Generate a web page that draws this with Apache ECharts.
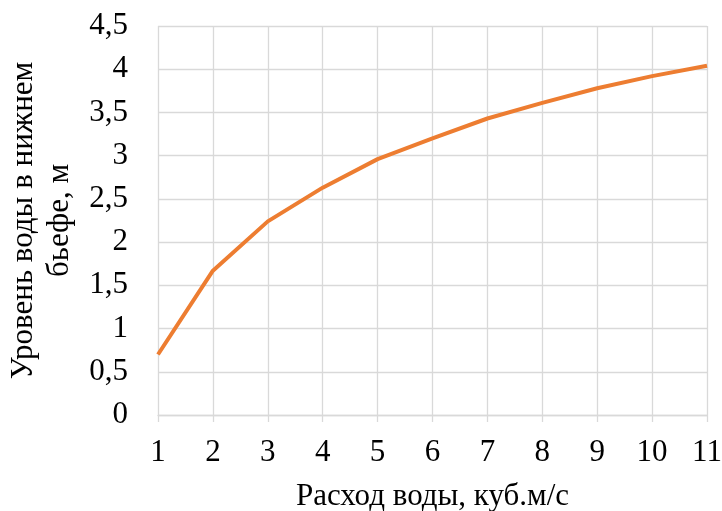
<!DOCTYPE html>
<html>
<head>
<meta charset="utf-8">
<script src="https://cdn.jsdelivr.net/npm/echarts@6/dist/echarts.min.js"></script>
<style>
  html, body { margin: 0; padding: 0; background: #fff; }
  #chart { width: 722px; height: 511px; }
</style>
</head>
<body>
<div id="chart"></div>
<script>
// Water discharge (m³/s) and tailwater level (m)
const discharge = ['1', '2', '3', '4', '5', '6', '7', '8', '9', '10', '11'];
const tailwaterLevel = [0.70, 1.67, 2.24, 2.63, 2.96, 3.20, 3.43, 3.61, 3.78, 3.92, 4.04];

const xTitle = 'Расход воды, куб.м/с';
const yTitle = 'Уровень воды в нижнем\nбьефе, м';

const serif = '"Liberation Serif", "Times New Roman", serif';
const fontSize = 31;
const gridColor = '#d9d9d9';
const chart = echarts.init(document.getElementById('chart'));

chart.setOption({
  animation: false,
  grid: { left: 158, right: 15, top: 26, bottom: 96, outerBoundsMode: 'none', containLabel: false },
  xAxis: {
    type: 'category',
    data: discharge,
    boundaryGap: false,
    name: xTitle,
    nameLocation: 'middle',
    nameGap: 66,
    nameTextStyle: { fontFamily: serif, fontSize: fontSize, color: '#000' },
    axisLine: { lineStyle: { color: gridColor, width: 1.3 } },
    axisTick: { show: true, length: 7, alignWithLabel: true, lineStyle: { color: gridColor, width: 1.3 } },
    axisLabel: { fontFamily: serif, fontSize: fontSize, color: '#000', margin: 22 },
    splitLine: { show: true, lineStyle: { color: gridColor, width: 1.3 } }
  },
  yAxis: {
    type: 'value',
    min: 0,
    max: 4.5,
    interval: 0.5,
    name: yTitle,
    nameLocation: 'middle',
    nameRotate: 90,
    nameGap: 73,
    nameTextStyle: { fontFamily: serif, fontSize: fontSize, color: '#000', lineHeight: 36 },
    axisLine: { show: false },
    axisTick: { show: false },
    axisLabel: {
      fontFamily: serif, fontSize: fontSize, color: '#000', margin: 30,
      formatter: v => String(v).replace('.', ',')
    },
    splitLine: { show: true, lineStyle: { color: gridColor, width: 1.3 } }
  },
  series: [{
    type: 'line',
    data: tailwaterLevel,
    symbol: 'none',
    lineStyle: { color: '#ED7D31', width: 4 }
  }]
});
</script>
</body>
</html>
